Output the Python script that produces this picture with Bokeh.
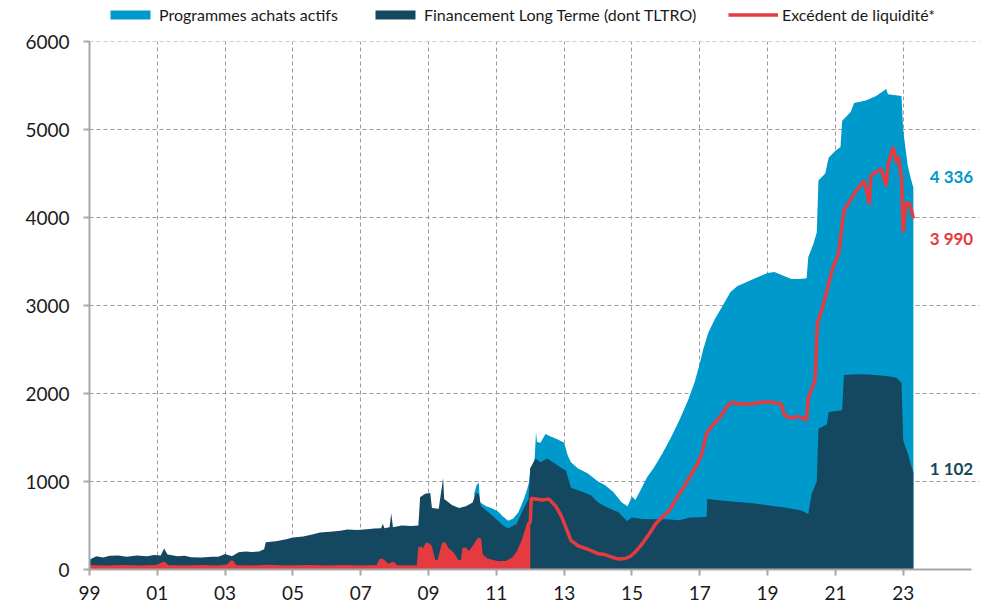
from bokeh.plotting import figure
from bokeh.models import Range1d, FixedTicker, Legend, LegendItem, Label, BoxAnnotation
from bokeh.embed import file_html
from bokeh.resources import INLINE

# ---------------- data ----------------
x_ticks = [1999, 2001, 2003, 2005, 2007, 2009, 2011, 2013, 2015, 2017, 2019, 2021, 2023]
x_tick_labels = ["99", "01", "03", "05", "07", "09", "11", "13", "15", "17", "19", "21", "23"]
y_ticks = [0, 1000, 2000, 3000, 4000, 5000, 6000]

# Financement Long Terme (dont TLTRO) - dark layer (bn EUR)
fin_x = [1999.0, 1999.2, 1999.4, 1999.6, 1999.85, 2000.1, 2000.4, 2000.7, 2000.9, 2001.1,
         2001.2, 2001.3, 2001.6, 2001.8, 2002.0, 2002.3, 2002.6, 2002.8, 2003.0, 2003.2,
         2003.4, 2003.6, 2003.8, 2004.0, 2004.15, 2004.2, 2004.5, 2004.8, 2005.0, 2005.3,
         2005.6, 2005.8, 2006.1, 2006.4, 2006.6, 2006.9, 2007.1, 2007.4, 2007.6, 2007.65,
         2007.7, 2007.85, 2007.9, 2007.95, 2008.2, 2008.5, 2008.7, 2008.75, 2008.9, 2009.05,
         2009.1, 2009.3, 2009.43, 2009.46, 2009.5, 2009.7, 2009.9, 2010.1, 2010.3, 2010.4,
         2010.48, 2010.55, 2010.8, 2011.0, 2011.2, 2011.35, 2011.6, 2011.8, 2011.95, 2012.0,
         2012.15, 2012.3, 2012.5, 2012.7, 2012.9, 2013.05, 2013.2, 2013.5, 2013.8, 2014.0,
         2014.3, 2014.6, 2014.85, 2015.0, 2015.3, 2015.6, 2016.0, 2016.4, 2016.7, 2017.0,
         2017.2, 2017.22, 2017.5, 2018.0, 2018.5, 2019.0, 2019.5, 2020.0, 2020.2, 2020.3,
         2020.45, 2020.5, 2020.75, 2020.8, 2021.2, 2021.25, 2021.6, 2022.0, 2022.5, 2022.8,
         2022.95, 2023.0, 2023.15, 2023.22, 2023.3]
fin_y = [110, 150, 135, 155, 160, 145, 160, 150, 165, 160,
         240, 170, 150, 155, 140, 135, 145, 145, 175, 150,
         195, 205, 200, 205, 230, 310, 320, 345, 365, 375,
         400, 420, 430, 440, 455, 450, 455, 465, 470, 520,
         470, 480, 640, 480, 500, 495, 500, 820, 860, 870,
         700, 690, 1040, 800, 790, 730, 700, 720, 760, 870,
         860, 720, 640, 570, 500, 465, 520, 690, 800, 1150,
         1260, 1220, 1260, 1210, 1160, 1125, 930, 890, 840, 760,
         700, 650, 550, 590, 575, 570, 570, 560, 590, 595,
         600, 800, 790, 770, 755, 730, 705, 670, 630, 860,
         1000, 1600, 1650, 1790, 1810, 2210, 2220, 2215, 2200, 2180,
         2120, 1470, 1300, 1200, 1102]

# Top of "Programmes achats actifs" (stacked on long-term financing)
tot_x = [2010.35, 2010.42, 2010.48, 2010.52, 2010.7, 2010.9, 2011.05, 2011.2, 2011.35, 2011.5,
         2011.65, 2011.8, 2011.9, 2011.97, 2012.0, 2012.12, 2012.17, 2012.2, 2012.3, 2012.45,
         2012.6, 2012.8, 2013.0, 2013.1, 2013.2, 2013.4, 2013.7, 2014.0, 2014.2, 2014.45,
         2014.7, 2014.87, 2015.0, 2015.1, 2015.25, 2015.45, 2015.65, 2015.9, 2016.15, 2016.4,
         2016.65, 2016.85, 2017.0, 2017.1, 2017.25, 2017.45, 2017.65, 2017.9, 2018.1, 2018.4,
         2018.7, 2019.0, 2019.2, 2019.45, 2019.7, 2019.95, 2020.15, 2020.2, 2020.35, 2020.45,
         2020.5, 2020.7, 2020.8, 2021.0, 2021.15, 2021.2, 2021.45, 2021.55, 2021.9, 2022.2,
         2022.5, 2022.55, 2022.95, 2023.0, 2023.13, 2023.2, 2023.3]
tot_y = [870, 960, 990, 760, 720, 690, 660, 600, 555, 580,
         650, 790, 900, 1000, 1150, 1200, 1560, 1450, 1440, 1540,
         1510, 1480, 1440, 1300, 1220, 1150, 1090, 1000, 960, 880,
         760, 720, 830, 790, 900, 1050, 1160, 1320, 1500, 1700,
         1920, 2130, 2340, 2500, 2690, 2850, 2980, 3150, 3220, 3270,
         3320, 3370, 3380, 3340, 3300, 3300, 3310, 3550, 3700, 3830,
         4420, 4500, 4680, 4760, 4800, 5100, 5200, 5300, 5330, 5380,
         5460, 5400, 5380, 4990, 4600, 4480, 4336]

# Excédent de liquidité*
exc_x = [1999.0, 1999.5, 2000.0, 2000.5, 2001.0, 2001.2, 2001.3, 2001.8, 2002.3, 2002.8,
         2003.1, 2003.2, 2003.3, 2003.8, 2004.3, 2004.8, 2005.5, 2006.0, 2006.5, 2007.0,
         2007.5, 2007.6, 2007.7, 2007.8, 2007.95, 2008.05, 2008.5, 2008.7, 2008.75, 2008.85,
         2008.95, 2009.05, 2009.15, 2009.3, 2009.45, 2009.55, 2009.7, 2009.85, 2010.0, 2010.05,
         2010.2, 2010.35, 2010.5, 2010.55, 2010.7, 2010.9, 2011.05, 2011.3, 2011.5, 2011.65,
         2011.8, 2011.95, 2012.0, 2012.03, 2012.35, 2012.55, 2012.75, 2012.9, 2013.05, 2013.2,
         2013.4, 2013.7, 2014.0, 2014.2, 2014.4, 2014.6, 2014.8, 2014.95, 2015.1, 2015.3,
         2015.5, 2015.7, 2015.9, 2016.1, 2016.3, 2016.5, 2016.7, 2016.9, 2017.05, 2017.2,
         2017.4, 2017.6, 2017.8, 2017.95, 2018.2, 2018.5, 2018.8, 2019.1, 2019.4, 2019.5,
         2019.7, 2019.9, 2020.15, 2020.2, 2020.4, 2020.47, 2020.6, 2020.75, 2020.9, 2021.1,
         2021.25, 2021.4, 2021.6, 2021.85, 2022.0, 2022.05, 2022.35, 2022.5, 2022.55, 2022.7,
         2022.8, 2022.85, 2022.95, 2023.0, 2023.08, 2023.2, 2023.3]
exc_y = [30, 25, 30, 25, 35, 70, 30, 25, 30, 25,
         40, 90, 30, 25, 35, 25, 30, 25, 30, 25,
         30, 110, 80, 40, 70, 30, 25, 30, 250, 200,
         290, 260, 100, 80, 300, 230, 180, 90, 80, 240,
         180, 260, 350, 160, 110, 90, 75, 80, 120, 200,
         330, 520, 540, 810, 790, 800, 720, 620, 480, 330,
         270, 230, 180, 170, 140, 120, 125, 150, 200, 290,
         400, 520, 600, 670, 800, 920, 1050, 1180, 1300, 1550,
         1650, 1730, 1850, 1900, 1880, 1880, 1900, 1900, 1880, 1750,
         1720, 1740, 1700, 1950, 2150, 2800, 2950, 3170, 3400, 3600,
         4080, 4170, 4300, 4420, 4150, 4480, 4550, 4360, 4600, 4800,
         4620, 4700, 4450, 3830, 4170, 4150, 3990]

end_labels = ["4 336", "3 990", "1 102"]
end_values = [4336, 3990, 1102]

# ---------------- styling ----------------
LIGHT = "#0099CC"
DARK = "#144861"
RED = "#E63A41"
GRID = "#9b9b9b"
AXIS = "#a8a8a8"
FONT = "Lato"

# frame: 1999 -> px 89, 33.92 px/year; 0 -> px 569, 0.088 px/unit; legend band above 6000
p = figure(width=990, height=608,
           x_range=Range1d(1999, 2025.25), y_range=Range1d(0, 6466),
           output_backend="svg", toolbar_location=None,
           min_border_left=89, min_border_right=11,
           min_border_top=0, min_border_bottom=39)
p.outline_line_color = None
p.background_fill_color = "white"
p.border_fill_color = "white"

r_light = p.varea(x=tot_x, y1=0, y2=tot_y, fill_color=LIGHT)
r_dark = p.varea(x=fin_x, y1=0, y2=fin_y, fill_color=DARK)

# early period: very noisy daily data appears as a filled red band
fill_x = [x for x in exc_x if x <= 2012.0]
fill_y = [y for x, y in zip(exc_x, exc_y) if x <= 2012.0]
p.varea(x=fill_x, y1=0, y2=fill_y, fill_color=RED)
r_red = p.line(exc_x, exc_y, line_color=RED, line_width=3.5)

# axes
p.xaxis.ticker = FixedTicker(ticks=x_ticks)
p.xaxis.major_label_overrides = {t: lab for t, lab in zip(x_ticks, x_tick_labels)}
p.yaxis.ticker = FixedTicker(ticks=y_ticks)
p.xaxis.bounds = (1999, 2025)
p.yaxis.bounds = (0, 6000)
for ax in (p.xaxis[0], p.yaxis[0]):
    ax.axis_line_color = AXIS
    ax.axis_line_width = 2
    ax.major_tick_line_color = AXIS
    ax.major_tick_line_width = 2
    ax.major_tick_in = 0
    ax.major_tick_out = 6
    ax.minor_tick_line_color = None
    ax.major_label_text_font = FONT
    ax.major_label_text_font_size = "19px"
    ax.major_label_text_color = "#1a1a1a"
p.yaxis.major_label_standoff = 14
p.xaxis.major_label_standoff = 10

p.xgrid.ticker = FixedTicker(ticks=x_ticks[1:])
p.ygrid.ticker = FixedTicker(ticks=y_ticks[1:])
p.grid.grid_line_color = GRID
p.grid.grid_line_dash = "4 3"
p.grid.grid_line_width = 1

# hide grid above the 6000 line (legend band)
p.add_layout(BoxAnnotation(bottom=6000, fill_color="white", fill_alpha=1,
                           line_color=None, level="underlay"))

# legends, one per entry, placed in the band above 6000
def add_legend(label, renderer, x):
    lg = Legend(items=[LegendItem(label=label, renderers=[renderer])],
                location=(x, 545), orientation="horizontal",
                glyph_width=50, glyph_height=11, label_standoff=4,
                padding=0, margin=0, border_line_color=None,
                background_fill_alpha=0, label_text_font=FONT,
                label_text_font_size="16px", label_text_color="#1a1a1a",
                label_height=18)
    p.add_layout(lg, "center")

add_legend("Programmes achats actifs", r_light, 16)
add_legend("Financement Long Terme (dont TLTRO)", r_dark, 281)
add_legend("Excédent de liquidité*", r_red, 639)

# end-value labels
for txt, val, col, yoff in zip(end_labels, end_values, [LIGHT, RED, DARK], [11, -20, 4]):
    p.add_layout(Label(x=2023.78, y=val, text=txt, x_units="data", y_units="data",
                       y_offset=yoff, text_color=col, text_font=FONT,
                       text_font_size="17px", text_font_style="bold",
                       text_baseline="middle", text_align="left"))

open("out.html", "w").write(file_html(p, INLINE))
